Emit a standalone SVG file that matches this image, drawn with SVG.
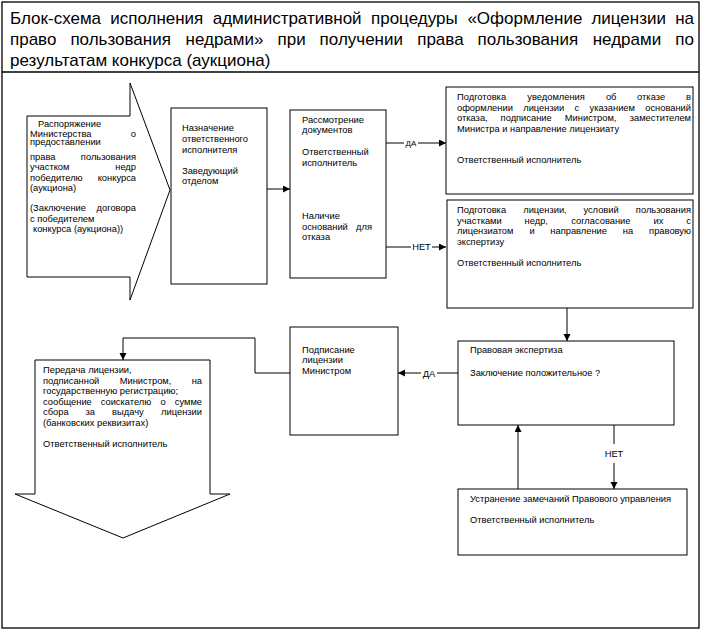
<svg xmlns="http://www.w3.org/2000/svg" width="702" height="631" viewBox="0 0 702 631">
<style>
text{font-family:"Liberation Sans",Arial,sans-serif;fill:#000}
.t{font-size:9.33px}
.ti{font-size:17px}
.lb{font-size:9.33px}
.sm{font-size:8px}
.sh{fill:#fff;stroke:#000;stroke-width:1}
.ln{fill:none;stroke:#000;stroke-width:1}
.e{text-anchor:end}
.m{text-anchor:middle}
</style>
<defs>
<marker id="ah" markerUnits="userSpaceOnUse" markerWidth="8" markerHeight="8" refX="7" refY="3.5" orient="auto">
<path d="M0,0 L7,3.5 L0,7 Z" fill="#000"/>
</marker>
</defs>
<rect x="0" y="0" width="702" height="631" fill="#fff"/>
<g id="frame">
<rect x="2" y="2" width="697" height="626" fill="none" stroke="#000" stroke-width="1.3"/>
<line x1="2" y1="72" x2="699" y2="72" stroke="#000" stroke-width="1.3"/>
</g>
<g id="title" class="ti">
<text x="10" y="24">Блок-схема</text>
<text x="110.2" y="24">исполнения</text>
<text x="212.7" y="24">административной</text>
<text x="371" y="24">процедуры</text>
<text x="467.4" y="24">«Оформление</text>
<text x="591.4" y="24">лицензии</text>
<text x="694" y="24" class="e">на</text>
<text x="10" y="45">право</text>
<text x="70.4" y="45">пользования</text>
<text x="185.5" y="45">недрами»</text>
<text x="277.6" y="45">при</text>
<text x="319.6" y="45">получении</text>
<text x="417.2" y="45">права</text>
<text x="477.6" y="45">пользования</text>
<text x="592.7" y="45">недрами</text>
<text x="694" y="45" class="e">по</text>
<text x="10" y="66">результатам конкурса (аукциона)</text>
</g>
<g id="n-order">
<path class="sh" d="M27,116 L130,116 L130,83 L170,190 L130,300 L130,277 L27,277 Z"/>
<g class="t">
<text x="38" y="127">Распоряжение</text>
<text x="30" y="136.5">Министерства</text><text x="136" y="136.5" class="e">о</text>
<text x="30" y="145">предоставлении</text>
<text x="30" y="160">права</text><text x="136" y="160" class="e">пользования</text>
<text x="30" y="170">участком</text><text x="136" y="170" class="e">недр</text>
<text x="30" y="180.5">победителю</text><text x="136" y="180.5" class="e">конкурса</text>
<text x="30" y="191">(аукциона)</text>
<text x="30" y="211">(Заключение</text><text x="136" y="211" class="e">договора</text>
<text x="30" y="221.5">с победителем</text>
<text x="33" y="231.5">конкурса (аукциона))</text>
</g>
</g>
<g id="n-assign">
<rect class="sh" x="171" y="108" width="96" height="176"/>
<g class="t">
<text x="182" y="130.5">Назначение</text>
<text x="182" y="141.5">ответственного</text>
<text x="182" y="152.5">исполнителя</text>
<text x="182" y="173.5">Заведующий</text>
<text x="182" y="184">отделом</text>
</g>
</g>
<g id="n-review">
<rect class="sh" x="290" y="110" width="96" height="168"/>
<g class="t">
<text x="302" y="122.5">Рассмотрение</text>
<text x="302" y="133">документов</text>
<text x="302" y="155">Ответственный</text>
<text x="302" y="165.5">исполнитель</text>
<text x="302" y="219">Наличие</text>
<text x="302" y="229.5">оснований</text><text x="372" y="229.5" class="e">для</text>
<text x="302" y="240">отказа</text>
</g>
</g>
<g id="n-refusal">
<rect class="sh" x="446" y="87" width="247" height="107"/>
<g class="t">
<text x="457" y="100">Подготовка</text><text x="527.3" y="100">уведомления</text><text x="605.9" y="100">об</text><text x="637.1" y="100">отказе</text><text x="691" y="100" class="e">в</text>
<text x="457" y="110.6">оформлении</text><text x="523.2" y="110.6">лицензии</text><text x="574.5" y="110.6">с</text><text x="589.5" y="110.6">указанием</text><text x="691" y="110.6" class="e">оснований</text>
<text x="457" y="121.2">отказа,</text><text x="500.6" y="121.2">подписание</text><text x="564.8" y="121.2">Министром,</text><text x="691" y="121.2" class="e">заместителем</text>
<text x="457" y="131.8">Министра и направление лицензиату</text>
<text x="457" y="163">Ответственный исполнитель</text>
</g>
</g>
<g id="n-prepare">
<rect class="sh" x="447" y="200" width="246" height="108"/>
<g class="t">
<text x="457" y="213">Подготовка</text><text x="523.2" y="213">лицензии,</text><text x="583.4" y="213">условий</text><text x="691" y="213" class="e">пользования</text>
<text x="457" y="223.6">участками</text><text x="524.6" y="223.6">недр,</text><text x="571.2" y="223.6">согласование</text><text x="653.6" y="223.6">их</text><text x="691" y="223.6" class="e">с</text>
<text x="457" y="234.2">лицензиатом</text><text x="529.5" y="234.2">и</text><text x="550.3" y="234.2">направление</text><text x="622.8" y="234.2">на</text><text x="691" y="234.2" class="e">правовую</text>
<text x="457" y="244.8">экспертизу</text>
<text x="457" y="266">Ответственный исполнитель</text>
</g>
</g>
<g id="n-legal">
<rect class="sh" x="458" y="341" width="216" height="84"/>
<g class="t">
<text x="470" y="353">Правовая экспертиза</text>
<text x="470" y="376">Заключение положительное ?</text>
</g>
</g>
<g id="n-sign">
<rect class="sh" x="290" y="327" width="108" height="108"/>
<g class="t">
<text x="302" y="352.5">Подписание</text>
<text x="302" y="363">лицензии</text>
<text x="302" y="374">Министром</text>
</g>
</g>
<g id="n-transfer">
<path class="sh" d="M35,360 L210,360 L210,494 L230,494 L123,538 L15,494 L35,494 Z"/>
<g class="t">
<text x="43" y="373">Передача лицензии,</text>
<text x="43" y="383.5">подписанной</text><text x="119.7" y="383.5">Министром,</text><text x="202" y="383.5" class="e">на</text>
<text x="43" y="394">государственную регистрацию;</text>
<text x="43" y="404.5">сообщение</text><text x="100.7" y="404.5">соискателю</text><text x="160.5" y="404.5">о</text><text x="202" y="404.5" class="e">сумме</text>
<text x="43" y="415">сбора</text><text x="85.6" y="415">за</text><text x="112.1" y="415">выдачу</text><text x="202" y="415" class="e">лицензии</text>
<text x="43" y="425.5">(банковских реквизитах)</text>
<text x="43" y="447">Ответственный исполнитель</text>
</g>
</g>
<g id="n-fix">
<rect class="sh" x="458" y="489" width="229" height="66"/>
<g class="t">
<text x="470" y="502">Устранение замечаний Правового управления</text>
<text x="470" y="523">Ответственный исполнитель</text>
</g>
</g>
<g id="connectors">
<path class="ln" d="M267,189 H290" marker-end="url(#ah)"/>
<path class="ln" d="M386,143 H404"/>
<path class="ln" d="M418,143 H446" marker-end="url(#ah)"/>
<path class="ln" d="M386,247 H411"/>
<path class="ln" d="M432,247 H446" marker-end="url(#ah)"/>
<path class="ln" d="M567,308 V341" marker-end="url(#ah)"/>
<path class="ln" d="M458,373 H437"/>
<path class="ln" d="M421,373 H398" marker-end="url(#ah)"/>
<path class="ln" d="M290,373 H255 V338 H123 V360" marker-end="url(#ah)"/>
<path class="ln" d="M614,425 V444"/>
<path class="ln" d="M614,463 V489" marker-end="url(#ah)"/>
<path class="ln" d="M518,489 V425" marker-end="url(#ah)"/>
<text class="sm m" x="411" y="146">ДА</text>
<text class="lb m" x="421.5" y="250.3">НЕТ</text>
<text class="lb m" x="429" y="376.5">ДА</text>
<text class="lb m" x="614" y="456.5">НЕТ</text>
</g>
</svg>
